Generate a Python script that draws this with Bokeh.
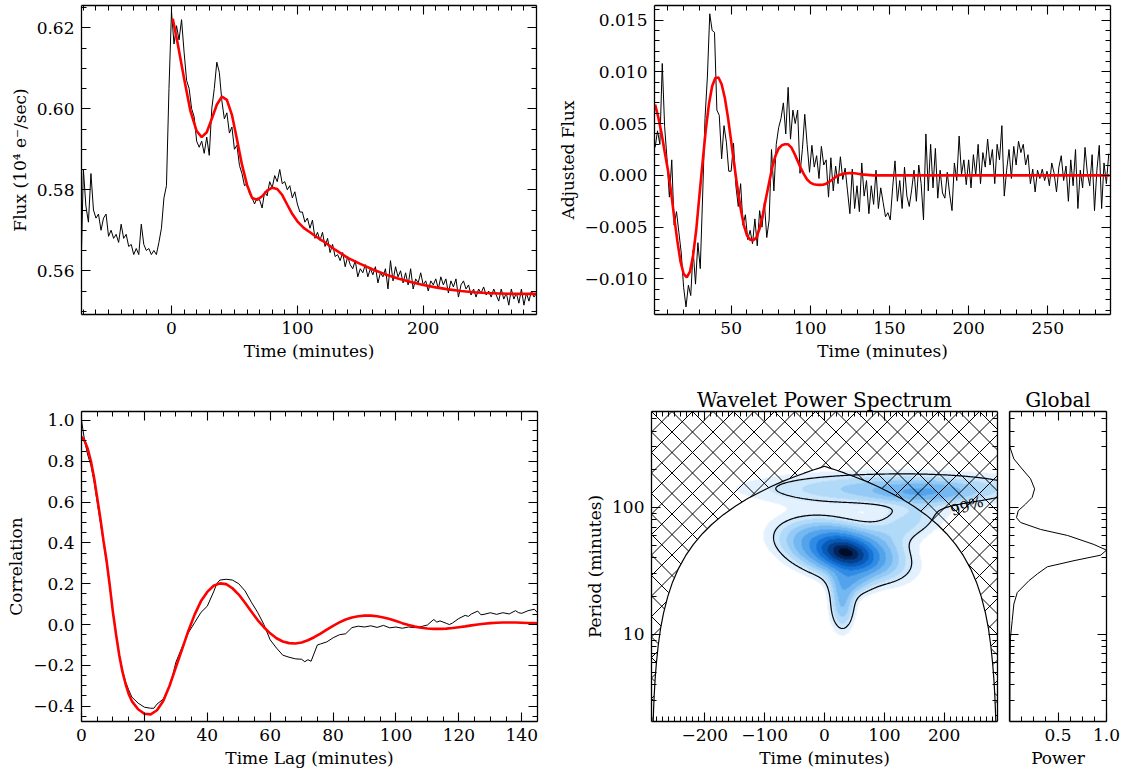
import numpy as np
from bokeh.plotting import figure
from bokeh.layouts import column, row
from bokeh.models import (Range1d, FixedTicker, LinearAxis, LogAxis,
                          CustomJSTickFormatter, LinearColorMapper, Label)
from bokeh.embed import file_html
from bokeh.resources import INLINE

# ---------------------------------------------------------------- data
# Panel 1: light curve (flux, 10^4 e-/s), sampled every 2 min from -72 min
flux_t_start, flux_t_step = -72, 2
flux = [
    0.558, 0.585, 0.576, 0.572, 0.584, 0.575, 0.573, 0.574, 0.570, 0.573,
    0.574, 0.5685, 0.570, 0.568, 0.569, 0.567, 0.5715, 0.568, 0.569, 0.566,
    0.5665, 0.564, 0.5655, 0.564, 0.5715, 0.5665, 0.565, 0.5655, 0.564, 0.565,
    0.564, 0.567, 0.5705, 0.578, 0.581, 0.605, 0.624, 0.616, 0.6205, 0.617,
    0.622, 0.614, 0.607, 0.605, 0.600, 0.598, 0.592, 0.5905, 0.592, 0.589,
    0.593, 0.5885, 0.600, 0.605, 0.6115, 0.609, 0.602, 0.5975, 0.599, 0.594,
    0.5955, 0.590, 0.591, 0.586, 0.584, 0.581, 0.5815, 0.579, 0.578, 0.5765,
    0.578, 0.5775, 0.5755, 0.5795, 0.5785, 0.582, 0.5805, 0.5835, 0.582, 0.585,
    0.5815, 0.582, 0.580, 0.581, 0.578, 0.5795, 0.5765, 0.5745, 0.5745, 0.572,
    0.573, 0.5705, 0.5725, 0.568, 0.5695, 0.5675, 0.5695, 0.566, 0.568, 0.5645,
    0.5665, 0.5635, 0.564, 0.5625, 0.5645, 0.561, 0.5635, 0.5615, 0.5605, 0.5625,
    0.5585, 0.5605, 0.5595, 0.5615, 0.5585, 0.5605, 0.559, 0.561, 0.557, 0.5595,
    0.5585, 0.5605, 0.5555, 0.5625, 0.5575, 0.561, 0.5585, 0.560, 0.557, 0.5595,
    0.5565, 0.5605, 0.5555, 0.558, 0.557, 0.5595, 0.5565, 0.5575, 0.555, 0.5575,
    0.5565, 0.558, 0.5555, 0.5585, 0.5565, 0.558, 0.5545, 0.5575, 0.556, 0.558,
    0.5535, 0.5565, 0.5575, 0.5555, 0.5565, 0.554, 0.5555, 0.5535, 0.5555, 0.5545,
    0.556, 0.554, 0.555, 0.5535, 0.5555, 0.554, 0.5525, 0.5555, 0.553, 0.5545,
    0.5515, 0.5555, 0.553, 0.5545, 0.552, 0.5555, 0.5515, 0.5545, 0.5525, 0.555,
    0.5535, 0.5545,
]
fit_t = [1, 5, 10, 15, 20, 24, 28, 32, 36, 40, 44, 48, 52, 56, 60, 64, 68, 72,
         76, 80, 84, 88, 92, 96, 100, 105, 110, 115, 120, 130, 140, 150, 160,
         170, 180, 190, 200, 210, 220, 230, 240, 250, 260, 270, 280, 290]
fit_flux = [0.6222, 0.6160, 0.6075, 0.5995, 0.5945, 0.5930, 0.5942, 0.5975,
            0.6010, 0.6030, 0.6022, 0.5985, 0.5925, 0.5862, 0.5812, 0.5780,
            0.5775, 0.5784, 0.5798, 0.5805, 0.5802, 0.5787, 0.5763, 0.5740,
            0.5722, 0.5706, 0.5695, 0.5684, 0.5674, 0.5652, 0.5632, 0.5617,
            0.5603, 0.5591, 0.5581, 0.5572, 0.5565, 0.5559, 0.5554, 0.5550,
            0.5547, 0.5545, 0.5544, 0.5543, 0.5543, 0.5543]

# Panel 2: adjusted flux (x 1e-3), sampled every 1.5 min from 2 min
adj_t_start, adj_t_step = 2.0, 1.5
adj_flux_e3 = [
    2.7, 4.3, 3.0, 10.8, 4.7, 1.6, -2.1, 1.5, -4.8, -3.5,
    -5.5, -7.5, -10.8, -12.7, -10.6, -11.6, -7.2, -10.5, -6.5, -9.0,
    -2.0, 5.5, 9.5, 15.6, 14.0, 13.8, 6.3, 5.8, 1.6, 4.8,
    3.2, 0.4, 0.4, 3.1, -1.0, -3.0, -0.8, -4.8, -3.8, -6.2,
    -5.3, -6.6, -4.2, -6.8, -3.4, -5.0, -2.6, -6.0, -4.3, 2.5,
    -1.5, 3.0, 4.6, 5.5, 7.0, 4.0, 8.5, 3.5, 6.3, 5.0,
    6.3, 0.2, 2.5, 5.9, 3.0, 0.3, 2.9, 0.8, 1.9, -0.3,
    2.8, 1.0, 1.5, -2.1, 1.7, -1.5, 0.9, -0.8, 1.8, -0.4,
    0.7, -1.5, -3.7, 0.6, -3.2, -1.0, -3.5, 1.2, -2.0, -0.5,
    -3.7, -1.0, -2.8, 0.5, -3.2, -1.2, -2.6, -4.0, -3.6, -4.3,
    -1.2, 1.4, -2.5, -0.5, -3.2, 0.8, -2.0, -3.0, -1.4, 0.5,
    -2.5, 1.0, -0.8, -4.3, 4.0, -1.5, 3.0, -1.2, 2.6, -2.2,
    0.5, -1.7, -2.2, 0.3, -1.8, -3.4, 1.2, -0.5, 3.8, 0.1,
    1.5, -0.9, 1.5, -1.2, 2.0, 0.0, 3.0, -0.8, 2.2, 0.8,
    3.5, 1.0, 2.5, -0.8, 3.0, 1.5, 4.8, -2.0, 0.5, 2.5,
    -0.3, 2.8, 1.0, 3.3, 2.2, 3.0, 1.0, 2.0, -0.8, 0.6,
    -1.6, 0.5, -0.3, 0.6, -0.5, 0.4, -1.0, 1.2, 0.2, -1.6,
    0.8, 1.9, -0.5, 0.9, -2.5, 1.5, -1.0, 2.5, -3.2, 0.5,
    -1.2, 2.7, 0.2, -1.0, 2.0, -3.4, 0.5, 2.9, -3.2, 1.2,
    -0.8, 2.1,
]
adj_fit_t = [2, 4, 6, 8, 10, 12, 14, 16, 18, 20, 22, 24, 26, 28, 30, 32, 34, 36,
             38, 40, 42, 44, 46, 48, 50, 52, 54, 56, 58, 60, 62, 64, 66, 68, 70,
             72, 74, 76, 78, 80, 82, 84, 86, 88, 90, 92, 94, 96, 98, 100, 102,
             104, 106, 108, 110, 112, 114, 116, 118, 120, 122, 124, 126, 128,
             130, 132, 136, 140, 150, 200, 289]
adj_fit_e3 = [6.84, 5.6, 4.1, 2.3, 0.6, -1.5, -4.0, -6.3, -8.3, -9.5, -9.85,
              -9.3, -7.7, -5.2, -1.9, 1.3, 4.4, 6.9, 8.6, 9.4, 9.45, 8.8, 7.5,
              5.6, 3.3, 1.0, -1.2, -3.2, -4.8, -5.8, -6.2, -6.25, -6.0, -5.1,
              -3.8, -2.2, -0.7, 0.8, 1.9, 2.6, 2.9, 3.0, 3.0, 2.7, 2.1, 1.4,
              0.7, 0.1, -0.4, -0.7, -0.85, -0.9, -0.92, -0.9, -0.8, -0.6, -0.4,
              -0.15, 0.02, 0.12, 0.18, 0.22, 0.22, 0.2, 0.16, 0.1, 0.05, 0.0,
              0.0, 0.0, 0.0]

# Panel 3: autocorrelation
corr_lag = [0, 1, 2, 3, 4, 5, 6, 7, 8, 9, 10, 11, 12, 13, 14, 15, 16, 18, 20,
            22, 23, 24, 26, 28, 29, 30, 32, 34, 36, 38, 40, 42, 43, 44, 46, 48,
            50, 52, 54, 56, 58, 60, 62, 64, 66, 68, 70, 71, 72, 73, 74, 75, 76,
            78, 80, 82, 84, 85, 86, 88, 90, 92, 94, 96, 98, 100, 102, 104, 106,
            108, 110, 112, 113, 114, 116, 117, 118, 120, 122, 123, 124, 126,
            127, 128, 130, 132, 134, 136, 138, 139, 140, 142, 144, 145]
corr_val = [1.0, 0.90, 0.83, 0.78, 0.70, 0.60, 0.50, 0.40, 0.30, 0.185, 0.06,
            -0.05, -0.15, -0.22, -0.28, -0.32, -0.355, -0.385, -0.405, -0.41,
            -0.41, -0.39, -0.365, -0.30, -0.25, -0.185, -0.11, -0.04, 0.01,
            0.06, 0.09, 0.16, 0.20, 0.218, 0.222, 0.218, 0.20, 0.165, 0.11,
            0.06, 0.0, -0.075, -0.115, -0.15, -0.16, -0.168, -0.17, -0.182,
            -0.172, -0.18, -0.14, -0.10, -0.095, -0.085, -0.065, -0.05, -0.045,
            -0.03, -0.015, -0.008, -0.012, -0.006, -0.014, -0.004, -0.016,
            -0.012, -0.018, -0.012, -0.015, -0.01, -0.002, 0.025, 0.012, 0.018,
            0.006, 0.0, 0.008, 0.03, 0.045, 0.04, 0.052, 0.066, 0.048, 0.05,
            0.058, 0.05, 0.058, 0.052, 0.068, 0.058, 0.055, 0.068, 0.075, 0.058]
corr_fit_lag = [0, 1, 2, 3, 4, 5, 6, 7, 8, 9, 10, 11, 12, 13, 14, 15, 16, 18,
                20, 22, 24, 26, 28, 30, 32, 34, 36, 38, 40, 42, 44, 46, 48, 50,
                52, 54, 56, 58, 60, 62, 64, 66, 68, 70, 72, 74, 76, 78, 80, 82,
                84, 86, 88, 90, 92, 94, 96, 98, 100, 102, 104, 106, 108, 110,
                112, 114, 116, 118, 120, 122, 124, 126, 128, 130, 132, 134, 136,
                138, 140, 142, 144, 145]
corr_fit = [0.92, 0.90, 0.86, 0.80, 0.72, 0.62, 0.52, 0.41, 0.31, 0.19, 0.06,
            -0.05, -0.15, -0.23, -0.29, -0.34, -0.375, -0.415, -0.437, -0.44,
            -0.42, -0.375, -0.30, -0.21, -0.12, -0.03, 0.05, 0.115, 0.16, 0.19,
            0.202, 0.198, 0.178, 0.147, 0.107, 0.064, 0.022, -0.013, -0.043,
            -0.067, -0.083, -0.091, -0.093, -0.088, -0.077, -0.062, -0.044,
            -0.025, -0.006, 0.011, 0.025, 0.035, 0.041, 0.044, 0.044, 0.041,
            0.035, 0.027, 0.017, 0.007, -0.002, -0.01, -0.016, -0.019, -0.021,
            -0.021, -0.02, -0.017, -0.013, -0.009, -0.004, 0.0, 0.004, 0.007,
            0.009, 0.010, 0.010, 0.010, 0.009, 0.008, 0.007, 0.006]

# Panel 4: wavelet power, described by blobs (time, log10 period)
#          core  body  tail  neck  band  bandcore  right-bridge
blob_t = [36, 30, 30, 45, 120, 165, 140]
blob_logp = [1.643, 1.66, 1.25, 1.42, 2.15, 2.12, 1.88]
blob_sig_t = [24, 55, 14, 22, 160, 55, 40]
blob_sig_logp = [0.07, 0.14, 0.15, 0.08, 0.09, 0.05, 0.12]
blob_amp = [0.58, 0.36, 0.14, 0.10, 0.12, 0.085, 0.08]
blob_tilt = [-100, -160, 0, 0, 0, 0, 150]
wav_levels = [0.03, 0.05, 0.075, 0.105, 0.14, 0.19, 0.26, 0.35, 0.46, 0.60,
              0.75, 0.88]
wav_colors = ["#e2f1fd", "#cce6fb", "#b1d9f8", "#94caf5", "#74b8f1", "#52a3ec",
              "#2f8be4", "#1572d6", "#075ab8", "#043f8c", "#02245a", "#000d26"]
sig_level = 0.055
# cone of influence: distance from series edge (min) -> period (min)
coi_d = [2.8, 3.5, 4.5, 6, 8, 11, 15, 20, 27, 35, 45, 57, 70, 85, 100, 120,
         140, 160, 180, 200, 220, 240, 255, 270, 280, 289]
coi_p = [2.05, 2.56, 3.3, 4.4, 5.8, 8.0, 11.0, 14.6, 19.7, 25.6, 32.9, 41.6,
         51.1, 62, 73, 87.6, 102, 117, 131, 146, 161, 175, 186, 197, 204, 211]

# Panel 5: global wavelet power
glob_period = [570, 300, 241, 201, 168, 140, 120, 106, 94, 83, 76, 67, 60, 51,
               46, 42, 38, 34, 30, 26.4, 21.3, 17.3, 12.8, 9.4, 5.1, 2.07]
glob_power = [0.003, 0.004, 0.045, 0.13, 0.217, 0.259, 0.234, 0.165, 0.09,
              0.072, 0.114, 0.32, 0.6, 0.87, 1.0, 0.94, 0.665, 0.39, 0.29, 0.2,
              0.08, 0.045, 0.028, 0.01, 0.005, 0.004]

# ---------------------------------------------------------------- styling helpers
FONT = "DejaVu Serif"
TICK_SIZE = "17px"
LABEL_SIZE = "17px"


def fixed_fmt(n):
    return CustomJSTickFormatter(code=(
        "var s = Math.abs(tick).toFixed(%d);"
        "if (tick < -1e-12) { s = '\\u2212' + s; }"
        "return s;" % n))


def blank_fmt():
    return CustomJSTickFormatter(code="return '';")


def style_axis(ax, ticker, fmt, label=None, labels=True):
    ax.ticker = ticker
    ax.formatter = fmt
    ax.axis_line_color = "black"
    ax.axis_line_width = 1.3
    ax.major_tick_line_color = "black"
    ax.minor_tick_line_color = "black"
    ax.major_tick_line_width = 1.1
    ax.minor_tick_line_width = 1.0
    ax.major_tick_in = 9
    ax.major_tick_out = 0
    ax.minor_tick_in = 5
    ax.minor_tick_out = 0
    ax.major_label_text_font = FONT
    ax.major_label_text_color = "black"
    if labels:
        ax.major_label_text_font_size = TICK_SIZE
        ax.major_label_standoff = 7
    else:
        ax.major_label_text_font_size = "1px"
        ax.major_label_standoff = 0
    if label:
        ax.axis_label = label
        ax.axis_label_text_font = FONT
        ax.axis_label_text_font_size = LABEL_SIZE
        ax.axis_label_text_font_style = "normal"
        ax.axis_label_text_color = "black"
        ax.axis_label_standoff = 4


def make_fig(xr, yr, fw, fh, bl, br, bt, bb, ylog=False):
    p = figure(x_range=Range1d(*xr), y_range=Range1d(*yr),
               frame_width=fw, frame_height=fh,
               min_border_left=bl, min_border_right=br,
               min_border_top=bt, min_border_bottom=bb,
               y_axis_type="log" if ylog else "linear",
               toolbar_location=None, tools="", output_backend="svg")
    p.outline_line_color = None
    p.xgrid.visible = False
    p.ygrid.visible = False
    p.background_fill_color = "white"
    p.border_fill_color = "white"
    return p


def box_axes(p, xt, yt, xfmt, yfmt, xlabel, ylabel, ylog=False,
             xlabels=True, ylabels=True):
    style_axis(p.xaxis[0], xt, xfmt if xlabels else blank_fmt(), xlabel, xlabels)
    style_axis(p.yaxis[0], yt, yfmt if ylabels else blank_fmt(), ylabel, ylabels)
    top = LinearAxis()
    style_axis(top, xt, blank_fmt(), None, False)
    p.add_layout(top, "above")
    right = LogAxis() if ylog else LinearAxis()
    style_axis(right, yt, blank_fmt(), None, False)
    p.add_layout(right, "right")


def set_title(p, text):
    p.title.text = text
    p.title.align = "center"
    p.title.text_font = FONT
    p.title.text_font_size = "20px"
    p.title.text_font_style = "normal"
    p.title.text_color = "black"
    p.title.standoff = 0
    p.title.offset = 0


# ---------------------------------------------------------------- panel 1
p1 = make_fig((-71.5, 290), (0.5492, 0.6255), 455, 309, 81, 18, 5, 67)
flux_t = flux_t_start + flux_t_step * np.arange(len(flux))
p1.line(flux_t, flux, line_color="black", line_width=1)
p1.line(fit_t, fit_flux, line_color="red", line_width=2.6)
box_axes(p1,
         FixedTicker(ticks=[0, 100, 200], minor_ticks=list(range(-70, 291, 10))),
         FixedTicker(ticks=[0.56, 0.58, 0.60, 0.62],
                     minor_ticks=[round(0.55 + 0.005 * i, 3) for i in range(16)]),
         fixed_fmt(0), fixed_fmt(2), "Time (minutes)", "Flux (10\u2074 e\u207b/sec)")

# ---------------------------------------------------------------- panel 2
p2 = make_fig((1.6, 289.6), (-0.01343, 0.0164), 456, 309, 96, 10, 5, 67)
adj_t = adj_t_start + adj_t_step * np.arange(len(adj_flux_e3))
p2.line(adj_t, np.array(adj_flux_e3) * 1e-3, line_color="black", line_width=1)
p2.line(adj_fit_t, np.array(adj_fit_e3) * 1e-3, line_color="red", line_width=2.6)
box_axes(p2,
         FixedTicker(ticks=[50, 100, 150, 200, 250], minor_ticks=list(range(10, 290, 10))),
         FixedTicker(ticks=[-0.01, -0.005, 0.0, 0.005, 0.01, 0.015],
                     minor_ticks=[round(-0.013 + 0.001 * i, 3) for i in range(30)]),
         fixed_fmt(0), fixed_fmt(3), "Time (minutes)", "Adjusted Flux")

# ---------------------------------------------------------------- panel 3
p3 = make_fig((0, 145), (-0.475, 1.044), 456, 310, 81, 24, 30, 50)
n3 = min(len(corr_lag), len(corr_val))
p3.line(corr_lag[:n3], corr_val[:n3], line_color="black", line_width=1)
n3f = min(len(corr_fit_lag), len(corr_fit))
p3.line(corr_fit_lag[:n3f], corr_fit[:n3f], line_color="red", line_width=2.6)
box_axes(p3,
         FixedTicker(ticks=list(range(0, 141, 20)), minor_ticks=list(range(0, 146, 5))),
         FixedTicker(ticks=[-0.4, -0.2, 0.0, 0.2, 0.4, 0.6, 0.8, 1.0],
                     minor_ticks=[round(-0.45 + 0.05 * i, 2) for i in range(30)]),
         fixed_fmt(0), fixed_fmt(1), "Time Lag (minutes)", "Correlation")

# ---------------------------------------------------------------- panel 4 (wavelet)
X0, X1 = -289.0, 289.0
P0, P1 = 2.05, 570.0
FW4, FH4 = 346, 310
L0, L1 = np.log10(P0), np.log10(P1)
p4 = make_fig((X0, X1), (P0, P1), FW4, FH4, 90, 6, 30, 50, ylog=True)
set_title(p4, "Wavelet Power Spectrum")

tg = np.linspace(X0, X1, FW4)
lg = np.linspace(L0, L1, FH4)
TT, LL = np.meshgrid(tg, lg)
Z = np.zeros_like(TT)
for tc, lc, st, sl, a, tl in zip(blob_t, blob_logp, blob_sig_t, blob_sig_logp,
                                 blob_amp, blob_tilt):
    tce = tc + tl * (LL - lc)
    Z += a * np.exp(-0.5 * ((TT - tce) / st) ** 2 - 0.5 * ((LL - lc) / sl) ** 2)
level_idx = np.digitize(Z, wav_levels).astype(float)
pal = ["#ffffff"] + wav_colors
cmap = LinearColorMapper(palette=pal, low=-0.5, high=len(pal) - 0.5)
p4.image(image=[level_idx], x=X0, y=P0, dw=X1 - X0, dh=P1 - P0, color_mapper=cmap)

# cross-hatching outside the cone of influence (45 degree lines in screen space)
coi_logp = np.log10(coi_p)


def coi_log_at(t):
    d = np.minimum(t - X0, X1 - t)
    return np.interp(d, coi_d, coi_logp)


hx, hy = [], []
spacing = 20.5
xs_px = np.arange(0, FW4 + 0.001, 0.25)
for sgn in (1, -1):
    for c in np.arange(-(FW4 + FH4), FW4 + FH4 + spacing, spacing):
        ypx = sgn * xs_px + c
        ok = (ypx >= 0) & (ypx <= FH4)
        if not ok.any():
            continue
        xp, yp = xs_px[ok], ypx[ok]
        tt = X0 + xp / FW4 * (X1 - X0)
        ll = L1 - yp / FH4 * (L1 - L0)
        m = ll > coi_log_at(tt)
        edges = np.flatnonzero(np.diff(np.concatenate([[0], m.astype(int), [0]])))
        for a, b in zip(edges[::2], edges[1::2]):
            if b - 1 > a:
                hx.append([tt[a], tt[b - 1]])
                hy.append([10 ** ll[a], 10 ** ll[b - 1]])
p4.multi_line(hx, hy, line_color="black", line_width=1)

coi_t = [X0 + d for d in coi_d] + [X1 - d for d in reversed(coi_d)]
coi_pp = list(coi_p) + list(reversed(coi_p))
p4.line(coi_t, coi_pp, line_color="black", line_width=1.2)

try:
    import contourpy
    cg = contourpy.contour_generator(x=tg, y=lg, z=Z)
    lines = cg.lines(sig_level)
    cxs = [list(l[:, 0]) for l in lines if len(l) > 1]
    cys = [list(10 ** l[:, 1]) for l in lines if len(l) > 1]
    p4.multi_line(cxs, cys, line_color="black", line_width=1.2)
except Exception:
    pass

p4.add_layout(Label(x=238, y=102, text="99%", angle=0.3, text_font=FONT,
                    text_font_size="15px", text_align="center",
                    text_baseline="middle", text_color="black"))
log_ticks = FixedTicker(ticks=[10, 100],
                        minor_ticks=[3, 4, 5, 6, 7, 8, 9, 20, 30, 40, 50, 60, 70,
                                     80, 90, 200, 300, 400, 500])
box_axes(p4,
         FixedTicker(ticks=[-200, -100, 0, 100, 200], minor_ticks=list(range(-280, 281, 10))),
         log_ticks, fixed_fmt(0), fixed_fmt(0), "Time (minutes)", "Period (minutes)",
         ylog=True)

# ---------------------------------------------------------------- panel 5 (global)
p5 = make_fig((0, 1.0), (P0, P1), 97, FH4, 6, 14, 30, 50, ylog=True)
set_title(p5, "Global")
p5.line(glob_power, glob_period, line_color="black", line_width=1)
box_axes(p5,
         FixedTicker(ticks=[0.5, 1.0],
                     minor_ticks=[0.125, 0.25, 0.375, 0.625, 0.75, 0.875]),
         log_ticks, fixed_fmt(1), fixed_fmt(0), "Power", None, ylog=True,
         ylabels=False)

layout = column(row(p1, p2), row(p3, p4, p5))
open("out.html", "w").write(file_html(layout, INLINE))
